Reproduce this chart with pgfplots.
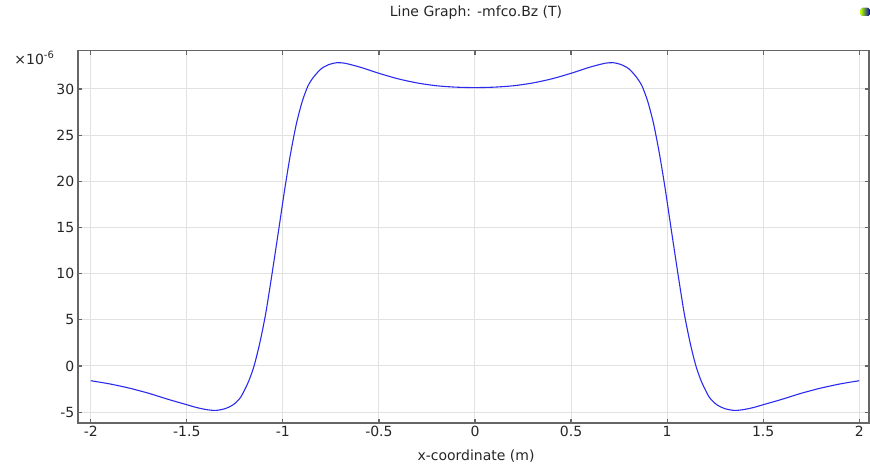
\documentclass[border=0pt]{standalone}
\usepackage{pgfplots}
\pgfplotsset{compat=1.18}
\usepackage{fontspec}
\setmainfont{DejaVu Sans}
\definecolor{gridc}{HTML}{E2E2E2}
\definecolor{axc}{HTML}{666666}
\definecolor{linec}{HTML}{2B2BF0}
\begin{document}
\fontsize{7pt}{8.4pt}\selectfont
\begin{tikzpicture}
\begin{axis}[
  scale only axis,
  width=395.6pt, height=186.2pt,
  xmin=-2.068, xmax=2.0505,
  ymin=-6.18, ymax=34.16,
  xtick={-2,-1.5,...,2},
  ytick={-5,0,5,...,30},
  scaled ticks=false,
  grid=major,
  major grid style={gridc, line width=0.5pt},
  axis line style={axc, line width=0.8pt},
  major tick style={axc, line width=0.6pt},
  major tick length=2pt,
  tick align=inside,
  xticklabel style={font=\fontsize{7pt}{8.4pt}\selectfont, text=black!85},
  yticklabel style={font=\fontsize{7pt}{8.4pt}\selectfont, text=black!85},
  /pgf/number format/assume math mode=true,
  xticklabel={\pgfmathprintnumber[assume math mode=true]{\tick}},
  yticklabel={\pgfmathprintnumber[assume math mode=true]{\tick}},
  xtick pos=both, ytick pos=both,
  every tick label/.append style={inner sep=1.5pt},
  clip=true,
]
\addplot[linec, line width=0.55pt, smooth, tension=0.45] coordinates {
(-2.00,-1.60) (-1.90,-1.95) (-1.80,-2.40) (-1.70,-2.95) (-1.60,-3.60)
(-1.50,-4.20) (-1.45,-4.50) (-1.40,-4.72) (-1.35,-4.82) (-1.30,-4.62)
(-1.26,-4.22) (-1.22,-3.40) (-1.18,-1.75) (-1.15,0.00) (-1.12,2.50)
(-1.09,5.60) (-1.06,9.50) (-1.02,15.00) (-0.99,19.20) (-0.96,23.00)
(-0.93,26.20) (-0.90,28.60) (-0.87,30.30) (-0.84,31.30) (-0.80,32.20)
(-0.76,32.65) (-0.72,32.85) (-0.68,32.80) (-0.63,32.55) (-0.58,32.25)
(-0.50,31.70) (-0.40,31.10) (-0.30,30.65) (-0.20,30.35) (-0.10,30.20)
(0.00,30.15)
(0.10,30.20) (0.20,30.35) (0.30,30.65) (0.40,31.10) (0.50,31.70)
(0.58,32.25) (0.63,32.55) (0.68,32.80) (0.72,32.85) (0.76,32.65)
(0.80,32.20) (0.84,31.30) (0.87,30.30) (0.90,28.60) (0.93,26.20)
(0.96,23.00) (0.99,19.20) (1.02,15.00) (1.06,9.50) (1.09,5.60)
(1.12,2.50) (1.15,0.00) (1.18,-1.75) (1.22,-3.40) (1.26,-4.22)
(1.30,-4.62) (1.35,-4.82) (1.40,-4.72) (1.45,-4.50) (1.50,-4.20)
(1.60,-3.60) (1.70,-2.95) (1.80,-2.40) (1.90,-1.95) (2.00,-1.60)
};
\end{axis}
\node[anchor=base west, text=black!85, inner sep=0pt] at (-31.85pt,179pt) {×10\textsuperscript{-6}};
\node[text=black!85] at (199.15pt,205pt) {Line Graph: -mfco.Bz (T)};
\node[text=black!85] at (199.15pt,-16.5pt) {x-coordinate (m)};
\fill[rounded corners=0.8pt, left color=yellow!70!green, right color=blue!70!black] (391.5pt,203.5pt) rectangle (396pt,207.5pt);
\pgfresetboundingbox
\useasboundingbox (-38.85pt,-21pt) rectangle (396.15pt,211.5pt);
\end{tikzpicture}
\end{document}
